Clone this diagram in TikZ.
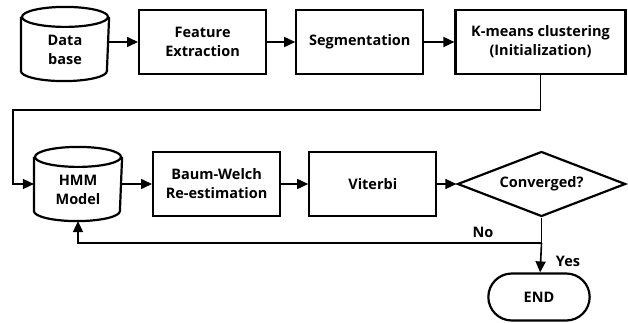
\documentclass[tikz,border=0pt]{standalone}
\usepackage{fontspec}
\setmainfont{Open Sans}
\usetikzlibrary{positioning,shapes.geometric,shapes.misc,arrows.meta}
\tikzset{basic/.style={draw,line width=2.2pt,font=\bfseries\fontsize{14.5}{19}\selectfont,align=center}}
\tikzset{proc/.style={basic,rectangle,minimum width=127pt,minimum height=64pt}}
\tikzset{store/.style={basic,draw=none,rectangle,minimum width=86pt,minimum height=60pt}}
\tikzset{decide/.style={basic,diamond,aspect=2.6,minimum width=168pt,minimum height=65pt,inner sep=0pt}}
\tikzset{stop/.style={basic,rounded rectangle,minimum width=108pt,minimum height=47pt}}
\tikzset{arr/.style={line width=1.6pt,-{Triangle[length=11pt,width=10pt]}}}
\tikzset{lbl/.style={font=\bfseries\fontsize{14.5}{15}\selectfont}}
% outline of a store node
\newcommand{\drum}[1]{%
  \draw[line width=2.2pt] ([yshift=2pt]#1.north west) -- ([yshift=10pt]#1.south west)
    arc[start angle=180,end angle=360,x radius=43pt,y radius=10pt] -- ([yshift=2pt]#1.north east);
  \draw[line width=2.2pt] ([yshift=2pt]#1.north) ellipse[x radius=43pt,y radius=10pt];}

\begin{document}
\begin{tikzpicture}[x=1pt,y=-1pt]
        \useasboundingbox (0,0) rectangle (628,323);
        % first pass
        \node[store] (db) at (65,50) {Data\\base};
        \drum{db}
        \node[proc,anchor=west] (fe) at (138,42) {Feature\\Extraction};
        \node[proc,right=28pt of fe] (seg) {Segmentation};
        \node[proc,right=30pt of seg,minimum width=170pt] (km) {K-means clustering\\(Initialization)};
            \path[draw,arr] (db.east |- fe) -- (fe);
            \path[draw,arr] (fe) -- (seg);
            \path[draw,arr] (seg) -- (km);
        % training loop
        \node[store] (hmm) at (78,190) {HMM\\Model};
        \drum{hmm}
        \node[proc,anchor=west] (bw) at (152,184) {Baum-Welch\\Re-estimation};
        \node[proc,right=27pt of bw] (vit) {Viterbi};
        \node[decide,right=19pt of vit] (conv) {Converged?};
            \path[draw,arr] (hmm.east |- bw) -- (bw);
            \path[draw,arr] (bw) -- (vit);
            \path[draw,arr] (vit) -- (conv);
        \coordinate (loop) at (13,110);
            \path[draw,arr] (km.south) |- (loop) |- (hmm.west |- bw);
        \node[stop] (end) at (539,297) {END};
        \coordinate (split) at (conv.south |- 0,243);
            \path[draw,line width=1.6pt] (conv.south) -- (split);
            \path[draw,arr] (split) -| (hmm.south);
            \path[draw,arr] (split) -- (end);
        \node[lbl] (no) at (483,232) {No};
        \node[lbl] (yes) at (568,261) {Yes};
    \end{tikzpicture}
\end{document}
